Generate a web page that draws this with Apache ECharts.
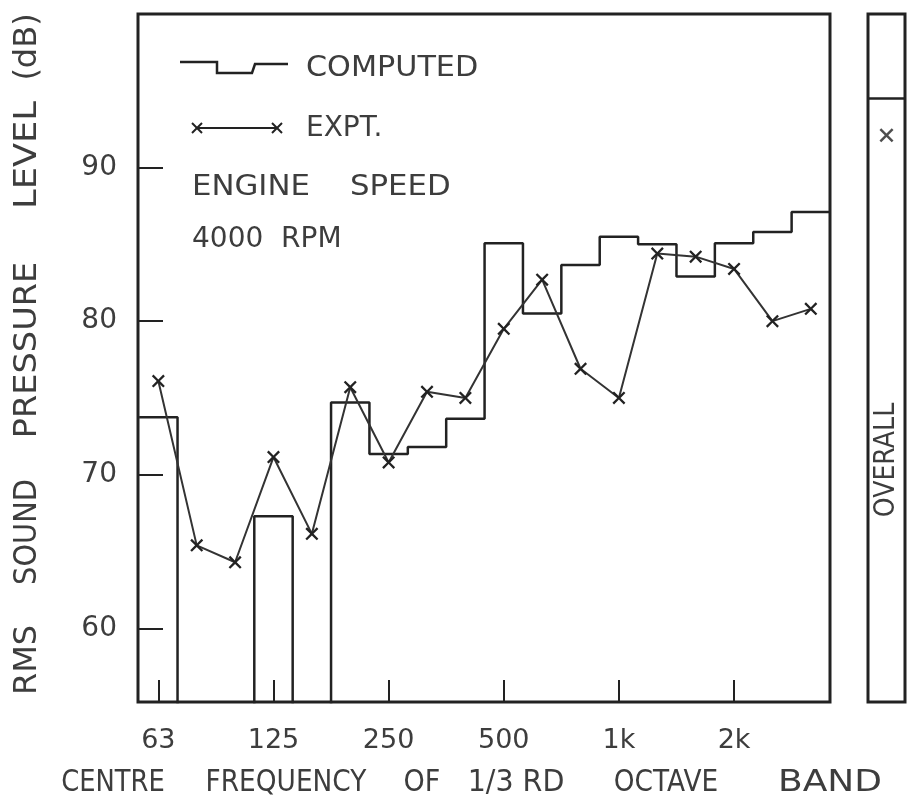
<!DOCTYPE html>
<html><head><meta charset="utf-8">
<script src="https://cdn.jsdelivr.net/npm/echarts@6/dist/echarts.min.js"></script>
<style>html,body{margin:0;padding:0;background:#fff}#c{width:907px;height:802px}</style>
</head><body><div id="c"></div>
<script>
// 1/3 octave band centre frequencies
const bands = ['63','80','100','125','160','200','250','315','400','500','630','800','1k','1.25k','1.6k','2k','2.5k','3.15k'];
// Computed levels (dB); 50 = below the plotted range (line drops off the bottom)
const computed = [73.75, 50, 50, 67.3, 50, 74.7, 71.35, 71.8, 73.65, 85.07, 80.5, 83.65, 85.5, 85.0, 82.9, 85.07, 85.8, 87.1];
// Experimental levels (dB)
const expt = [76.1, 65.4, 64.3, 71.15, 66.15, 75.7, 70.8, 75.4, 75.0, 79.5, 82.7, 76.9, 75.0, 84.4, 84.2, 83.4, 80.0, 80.8];
// Overall levels (dB)
const overallComputed = 94.5;
const overallExpt = 92.1;
// Axis tick labels
const xTickLabels = ['63','125','250','500','1k','2k'];
const yTickLabels = [60, 70, 80, 90];

const xTickIdx = xTickLabels.map(b => bands.indexOf(b));
const INK = '#222', TXT = '#3d3d3d', FF = 'DejaVu Sans';
const XSYM = 'path://M0,1.5L1.5,0L6,4.5L10.5,0L12,1.5L7.5,6L12,10.5L10.5,12L6,7.5L1.5,12L0,10.5L4.5,6Z';

const stepData = computed.flatMap((v, i) => [[i - 0.5, v], [i + 0.5, v]]);
const exptData = expt.map((v, i) => [i, v]);

function txt(text, x, y, size, opts) {
  opts = opts || {};
  return {
    type: 'text', x: x, y: y, rotation: opts.rot || 0, scaleX: opts.sx || 1, z: 10,
    style: { text: text, fontSize: size, fontFamily: FF, fill: TXT,
      align: opts.align || 'center', verticalAlign: 'middle',
      textAlign: opts.align || 'center', textVerticalAlign: 'middle' }
  };
}
function xMark(cx, cy, r) {
  return [
    { type: 'line', shape: { x1: cx - r, y1: cy - r, x2: cx + r, y2: cy + r }, style: { stroke: INK, lineWidth: 2 } },
    { type: 'line', shape: { x1: cx - r, y1: cy + r, x2: cx + r, y2: cy - r }, style: { stroke: INK, lineWidth: 2 } }
  ];
}

const R = Math.PI / 2;
const graphics = [
  // y-axis title (rotated words)
  txt('RMS', 28, 660, 32, { rot: R }),
  txt('SOUND', 28, 532, 32, { rot: R, sx: 0.9 }),
  txt('PRESSURE', 28, 350, 32, { rot: R, sx: 1.05 }),
  txt('LEVEL', 28, 155, 32, { rot: R, sx: 1.1 }),
  txt('(dB)', 28, 47, 32, { rot: R }),
  // x-axis title words
  txt('CENTRE', 113, 783, 30, { sx: 0.86 }),
  txt('FREQUENCY', 286, 783, 30, { sx: 0.88 }),
  txt('OF', 422, 783, 30, { sx: 0.9 }),
  txt('1/3 RD', 516, 783, 30, { sx: 0.95 }),
  txt('OCTAVE', 666, 783, 30, { sx: 0.88 }),
  txt('BAND', 778, 783, 30, { sx: 1.2, align: 'left' }),
  // legend
  { type: 'polyline', z: 10, shape: { points: [[180, 62], [217, 62], [217, 73], [252, 73], [255, 64], [288, 64]] },
    style: { stroke: INK, lineWidth: 2.5, fill: null } },
  txt('COMPUTED', 306, 69, 28, { align: 'left', sx: 1.08 }),
  { type: 'line', z: 10, shape: { x1: 197, y1: 128, x2: 277, y2: 128 }, style: { stroke: INK, lineWidth: 2 } },
  ...xMark(197, 128, 5), ...xMark(277, 128, 5),
  txt('EXPT.', 306, 129, 28, { align: 'left' }),
  txt('ENGINE', 192, 188, 28, { align: 'left', sx: 1.1 }),
  txt('SPEED', 350, 188, 28, { align: 'left', sx: 1.1 }),
  txt('4000  RPM', 192, 240, 28, { align: 'left' }),
  // overall panel label
  txt('OVERALL', 887, 460, 28, { rot: R, sx: 0.9 })
];

const chart = echarts.init(document.getElementById('c'), null, { renderer: 'canvas' });
chart.setOption({
  animation: false,
  backgroundColor: '#fff',
  grid: [
    { left: 138, top: 14, width: 692, height: 688, show: true, borderColor: INK, borderWidth: 3, backgroundColor: 'transparent' },
    { left: 868, top: 14, width: 37, height: 688, show: true, borderColor: INK, borderWidth: 3, backgroundColor: 'transparent' }
  ],
  xAxis: [
    { type: 'value', gridIndex: 0, min: -0.53, max: 17.5,
      axisLine: { show: false, onZero: false }, splitLine: { show: false },
      axisTick: { show: true, inside: true, length: 22, customValues: xTickIdx, lineStyle: { color: INK, width: 2 } },
      axisLabel: { show: true, customValues: xTickIdx, margin: 25, fontSize: 27, fontFamily: FF, color: TXT,
        formatter: v => xTickLabels[xTickIdx.indexOf(Math.round(v))] } },
    { type: 'value', gridIndex: 1, min: 0, max: 1, show: false }
  ],
  yAxis: [
    { type: 'value', gridIndex: 0, min: 55.2, max: 100,
      axisLine: { show: false, onZero: false }, splitLine: { show: false },
      axisTick: { show: true, inside: true, length: 25, customValues: yTickLabels, lineStyle: { color: INK, width: 2 } },
      axisLabel: { show: true, customValues: yTickLabels, margin: 21, fontSize: 28, fontFamily: FF, color: TXT } },
    { type: 'value', gridIndex: 1, min: 55.2, max: 100, show: false }
  ],
  series: [
    { name: 'COMPUTED', type: 'line', xAxisIndex: 0, yAxisIndex: 0, data: stepData, symbol: 'none',
      clip: true, lineStyle: { color: INK, width: 2.5 } },
    { name: 'EXPT.', type: 'line', xAxisIndex: 0, yAxisIndex: 0, data: exptData,
      symbol: XSYM, symbolSize: 13, itemStyle: { color: INK }, clip: true,
      lineStyle: { color: '#333', width: 2 } },
    { name: 'COMPUTED overall', type: 'line', xAxisIndex: 1, yAxisIndex: 1,
      data: [[0, overallComputed], [1, overallComputed]], symbol: 'none', lineStyle: { color: INK, width: 2.5 } },
    { name: 'EXPT. overall', type: 'scatter', xAxisIndex: 1, yAxisIndex: 1,
      data: [[0.5, overallExpt]], symbol: XSYM, symbolSize: 14, itemStyle: { color: INK } }
  ],
  graphic: graphics
});
</script></body></html>
